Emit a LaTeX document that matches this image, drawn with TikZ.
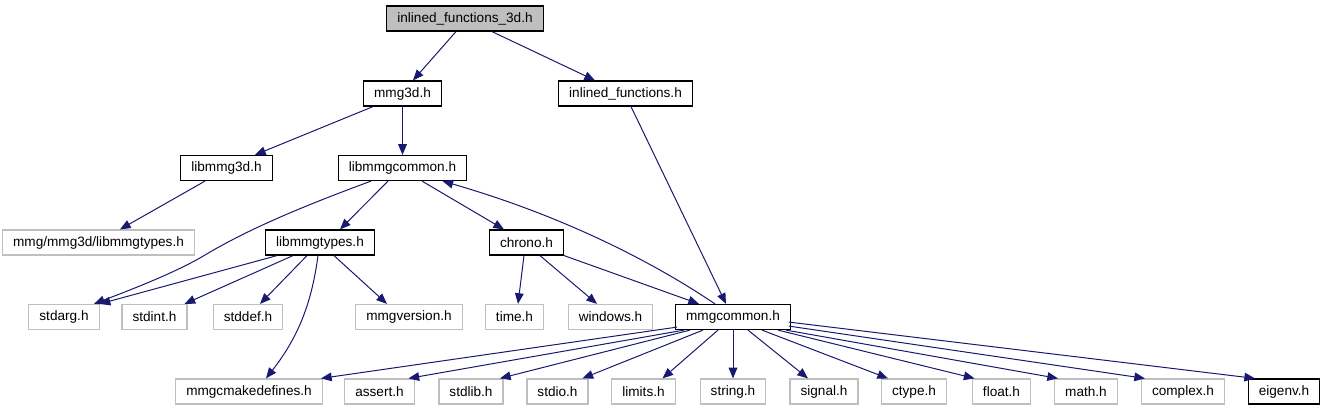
\documentclass[tikz,border=0pt]{standalone}
\usepackage{fontspec}
\setmainfont{Liberation Sans}
\usetikzlibrary{arrows.meta,calc}
\definecolor{edgeblue}{HTML}{191970}
\definecolor{extgray}{HTML}{BFBFBF}

\begin{document}
\begin{tikzpicture}[x=0.75pt,y=-0.75pt,
    file/.style={draw=black,line width=0.9pt,minimum height=18.75pt,
      inner xsep=7.9pt,inner ysep=0pt,font=\fontsize{10.2}{12}\selectfont},
    sysfile/.style={file,draw=extgray},
    topfile/.style={file,fill=extgray},
    dep/.style={edgeblue,line width=0.75pt,-{Triangle[length=8pt,width=6.5pt]}}]

      \useasboundingbox (0,0) rectangle (1324,411);

      % Files
      \node[topfile] (top) at (465,18.5) {inlined\_functions\_3d.h};

      \node[file] (mmg3d) at (402.5,93.5) {mmg3d.h};
      \node[file] (inlfun) at (625.5,93.5) {inlined\_functions.h};

      \node[file] (libmmg3d) at (226.5,168) {libmmg3d.h};
      \node[file] (libmmgcommon) at (402.5,168) {libmmgcommon.h};

      \node[sysfile] (mmgtypes3d) at (98.5,242.5) {mmg/mmg3d/libmmgtypes.h};
      \node[file] (libmmgtypes) at (320,242.5) {libmmgtypes.h};
      \node[file] (chrono) at (526.5,242.5) {chrono.h};

      \node[sysfile] (stdarg) at (64,317) {stdarg.h};
      \node[sysfile] (stdint) at (154.5,317) {stdint.h};
      \node[sysfile] (stddef) at (248,317) {stddef.h};
      \node[sysfile] (mmgversion) at (409,317) {mmgversion.h};
      \node[sysfile] (time) at (514.5,317) {time.h};
      \node[sysfile] (windows) at (610.5,317) {windows.h};
      \node[file] (mmgcommon) at (733,317) {mmgcommon.h};

      \node[sysfile] (mmgcmakedefines) at (249,391.5) {mmgcmakedefines.h};
      \node[sysfile] (assert) at (379.5,391.5) {assert.h};
      \node[sysfile] (stdlib) at (471,391.5) {stdlib.h};
      \node[sysfile] (stdio) at (557.5,391.5) {stdio.h};
      \node[sysfile] (limits) at (643.5,391.5) {limits.h};
      \node[sysfile] (string) at (733,391.5) {string.h};
      \node[sysfile] (signal) at (824,391.5) {signal.h};
      \node[sysfile] (ctype) at (914,391.5) {ctype.h};
      \node[sysfile] (float) at (1001.5,391.5) {float.h};
      \node[sysfile] (math) at (1086,391.5) {math.h};
      \node[sysfile] (complex) at (1183,391.5) {complex.h};
      \node[file] (eigenv) at (1284,391.5) {eigenv.h};

      % Includes
      \draw[dep] ($(top.south)+(-9,0)$) -- ($(mmg3d.north)+(10.5,0)$);
      \draw[dep] ($(top.south)+(27,0)$) -- ($(inlfun.north)+(-30.5,0)$);
      \draw[dep] ($(mmg3d.south)+(-29.5,0)$) -- ($(libmmg3d.north)+(28.5,0)$);
      \draw[dep] (mmg3d.south) -- (libmmgcommon.north);
      \draw[dep] ($(inlfun.south)+(5.5,0)$) -- ($(mmgcommon.north)+(-7,0)$);
      \draw[dep] ($(libmmg3d.south)+(-21.5,0)$) -- ($(mmgtypes3d.north)+(21.5,0)$);

      \draw[dep] ($(libmmgcommon.south)+(-31.5,0)$) .. controls (320,200) and (255,225) .. (205,255)
                 .. controls (175,273) and (130,290) .. ($(stdarg.north)+(30,0)$);
      \draw[dep] ($(libmmgcommon.south)+(-14.5,0)$) -- ($(libmmgtypes.north)+(20,0)$);
      \draw[dep] ($(libmmgcommon.south)+(19.5,0)$) -- ($(chrono.north)+(-22.5,0)$);
      \draw[dep] ($(mmgcommon.north)+(-18,0)$) .. controls (650,260) and (560,215) .. ($(libmmgcommon.south)+(40,0)$);

      \draw[dep] ($(libmmgtypes.south)+(-43,0)$) -- (stdarg.north east);
      \draw[dep] ($(libmmgtypes.south)+(-27,0)$) -- ($(stdint.north)+(30,0)$);
      \draw[dep] ($(libmmgtypes.south)+(-13,0)$) -- ($(stddef.north)+(12,0)$);
      \draw[dep] ($(libmmgtypes.south)+(-2,0)$) .. controls (312,300) and (300,335) .. ($(mmgcmakedefines.north)+(17,0)$);
      \draw[dep] ($(libmmgtypes.south)+(14,0)$) -- ($(mmgversion.north)+(-22,0)$);

      \draw[dep] ($(chrono.south)+(-2.5,0)$) -- ($(time.north)+(3.5,0)$);
      \draw[dep] ($(chrono.south)+(13.5,0)$) -- ($(windows.north)+(-13.5,0)$);
      \draw[dep] (chrono.south east) -- ($(mmgcommon.north)+(-34,0)$);

      % mmgcommon.h includes
      \foreach \dst/\sx/\sy/\tx in {mmgcmakedefines/-56/-3/72, assert/-49/0/29, stdlib/-43/0/29,
          stdio/-30/0/25, limits/-15/0/19, string/0/0/0, signal/15/0/-16, ctype/29/0/-26,
          float/45/0/-27, math/53/0/-28, complex/56/-4/-38, eigenv/56/-8/-29}
        \draw[dep] ($(mmgcommon.south)+(\sx,\sy)$) -- ($(\dst.north)+(\tx,0)$);

\end{tikzpicture}
\end{document}
